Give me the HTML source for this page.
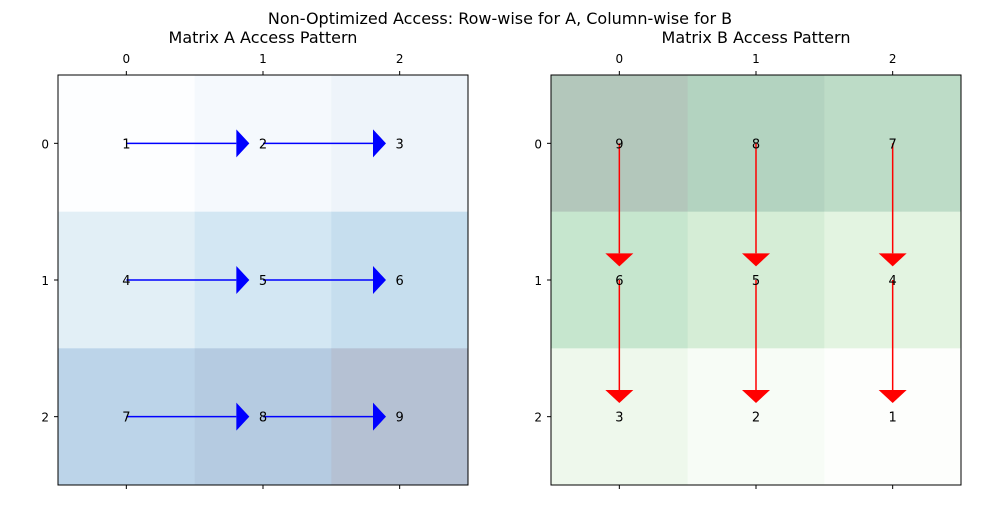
<!DOCTYPE html>
<html><head><meta charset="utf-8"><style>
body{margin:0;background:#fff;font-family:"Liberation Sans","DejaVu Sans",sans-serif}
svg text{font-family:"DejaVu Sans","Liberation Sans",sans-serif}
</style></head><body>
<svg id="c" width="1000" height="500" xmlns="http://www.w3.org/2000/svg">
<text x="500" y="24" font-size="16" text-anchor="middle">Non-Optimized Access: Row-wise for A, Column-wise for B</text>
</svg>
<script>
const matA=[[1,2,3],[4,5,6],[7,8,9]];
const matB=[[9,8,7],[6,5,4],[3,2,1]];
const ticks=["0","1","2"];
const titles=["Matrix A Access Pattern","Matrix B Access Pattern"];
const blues=["#f7fbff","#deebf7","#c6dbef","#9ecae1","#6baed6","#4292c6","#2171b5","#08519c","#08306b"];
const greens=["#f7fcf5","#e5f5e0","#c7e9c0","#a1d99b","#74c476","#41ab5d","#238b45","#006d2c","#00441b"];
const NS="http://www.w3.org/2000/svg";
const svg=document.getElementById('c');
function mk(t,a,p){const e=document.createElementNS(NS,t);for(const k in a)e.setAttribute(k,a[k]);(p||svg).appendChild(e);return e;}
function blend(h){const r=parseInt(h.substr(1,2),16),g=parseInt(h.substr(3,2),16),b=parseInt(h.substr(5,2),16);
return `rgb(${Math.round(255-0.3*(255-r))},${Math.round(255-0.3*(255-g))},${Math.round(255-0.3*(255-b))})`;}
function panel(x0,mat,cmap,title,dir,col){
 const y0=75,S=410,cs=S/3;
 const px=j=>x0+(j+0.5)*cs, py=i=>y0+(i+0.5)*cs;
 const g=mk('g',{});
 
 
 const mn=1,mx=9;
 for(let i=0;i<3;i++)for(let j=0;j<3;j++){
  const v=mat[i][j];const idx=Math.round((v-mn)/(mx-mn)*8);
  const r=mk('rect',{x:x0+j*cs,y:y0+i*cs,width:cs+0.5,height:cs+0.5,fill:blend(cmap[idx])},g);
  
  
 }
 for(let i=0;i<3;i++)for(let j=0;j<3;j++){
  if(dir==='h'&&j<2){const x1=px(j),x2=px(j)+0.9*cs,y=py(i);
   const l=mk('line',{x1:x1,y1:y,x2:x2-13,y2:y,stroke:col,'stroke-width':1.5},g);
   
   const p=mk('polygon',{points:`${x2-13},${y-14} ${x2},${y} ${x2-13},${y+14}`,fill:col},g);
   }
  if(dir==='v'&&i<2){const y1=py(i),y2=py(i)+0.9*cs,x=px(j);
   const l=mk('line',{x1:x,y1:y1,x2:x,y2:y2-13,stroke:col,'stroke-width':1.5},g);
   
   const p=mk('polygon',{points:`${x-14},${y2-13} ${x},${y2} ${x+14},${y2-13}`,fill:col},g);
   }
 }
 for(let i=0;i<3;i++)for(let j=0;j<3;j++){
  const t=mk('text',{x:px(j),y:py(i)+5,'font-size':13,'text-anchor':'middle'},g);t.textContent=mat[i][j];
  
 }
 const f=mk('rect',{x:x0,y:y0,width:S,height:S,fill:'none',stroke:'#000','stroke-width':1},g);
 
 for(let k=0;k<3;k++){
  mk('line',{x1:px(k),y1:y0,x2:px(k),y2:y0-4,stroke:'#000'},g);
  mk('line',{x1:px(k),y1:y0+S,x2:px(k),y2:y0+S+4,stroke:'#000'},g);
  mk('line',{x1:x0,y1:py(k),x2:x0-4,y2:py(k),stroke:'#000'},g);
  const a=mk('text',{x:px(k),y:y0-12,'font-size':12,'text-anchor':'middle'},g);a.textContent=ticks[k];
  
  const b=mk('text',{x:x0-9,y:py(k)+5,'font-size':12,'text-anchor':'end'},g);b.textContent=ticks[k];
  
 }
 const tt=mk('text',{x:x0+S/2,y:43,'font-size':16,'text-anchor':'middle'},g);tt.textContent=title;
 
}
panel(58,matA,blues,titles[0],'h','#0000ff');
panel(551,matB,greens,titles[1],'v','#ff0000');
</script>
</body></html>
